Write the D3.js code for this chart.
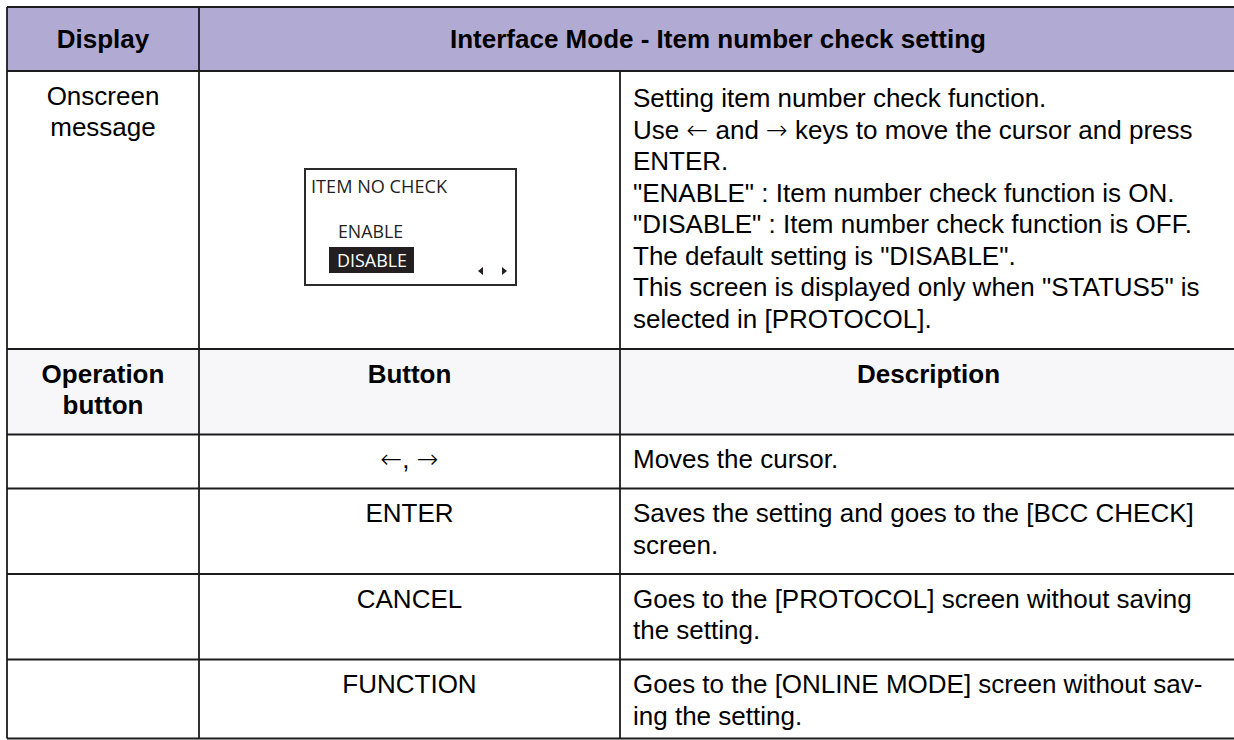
<!DOCTYPE html>
<html>
<head>
<meta charset="utf-8">
<script src="https://cdn.jsdelivr.net/npm/d3@7"></script>
<style>
  html, body { margin: 0; padding: 0; background: #ffffff; }
  svg { display: block; }
</style>
</head>
<body>
<svg id="chart" width="1234" height="740"></svg>
<script>
// ---------------- DATA ----------------
const headerLabels = ["Display", "Interface Mode - Item number check setting"];
const displayLabel = ["Onscreen", "message"];
const screenDescription = [
  "Setting item number check function.",
  "Use \u2190 and \u2192 keys to move the cursor and press",
  "ENTER.",
  "\"ENABLE\" : Item number check function is ON.",
  "\"DISABLE\" : Item number check function is OFF.",
  "The default setting is \"DISABLE\".",
  "This screen is displayed only when \"STATUS5\" is",
  "selected in [PROTOCOL]."
];
const lcdTitle = "ITEM NO CHECK";
const lcdOptions = ["ENABLE", "DISABLE"];
const lcdSelected = "DISABLE";
const subHeaderLabels = [["Operation", "button"], ["Button"], ["Description"]];
const buttonNames = ["\u2190, \u2192", "ENTER", "CANCEL", "FUNCTION"];
const buttonDescriptions = [
  ["Moves the cursor."],
  ["Saves the setting and goes to the [BCC CHECK]", "screen."],
  ["Goes to the [PROTOCOL] screen without saving", "the setting."],
  ["Goes to the [ONLINE MODE] screen without sav-", "ing the setting."]
];

// ---------------- LAYOUT ----------------
const FONT = "'Liberation Sans', Arial, Helvetica, sans-serif";
const ARROW_FONT = "'DejaVu Sans', sans-serif";
const FS = 26, LINE_H = 31.5, PAD_T = 9, PAD_B = 13.5;
const HEADER_H = 64;
const TABLE_TOP = 7;
const VIEW_BOTTOM = 738.5;
const colX = d3.scaleOrdinal().domain([0, 1, 2, 3]).range([7, 199, 620, 1237]);
const svg = d3.select("#chart");

// rows definition built from data
const rows = [];
rows.push({ kind: "header", h: HEADER_H, bg: "#b1abd4" });
rows.push({ kind: "screen", h: Math.max(screenDescription.length, displayLabel.length) * LINE_H + PAD_T + PAD_B + 3.5, bg: "#ffffff" });
rows.push({ kind: "subheader", h: d3.max(subHeaderLabels, d => d.length) * LINE_H + PAD_T + PAD_B, bg: "#f7f7fa" });
buttonNames.forEach((b, i) => rows.push({ kind: "button", idx: i, h: buttonDescriptions[i].length * LINE_H + PAD_T + PAD_B, bg: "#ffffff" }));
let yAcc = TABLE_TOP;
rows.forEach(r => { r.y = yAcc; yAcc += r.h; });
const tableBottom = Math.min(yAcc, VIEW_BOTTOM);

// row backgrounds
svg.append("g").selectAll("rect").data(rows).join("rect")
  .attr("x", colX(0)).attr("y", d => d.y)
  .attr("width", colX(3) - colX(0)).attr("height", d => Math.min(d.h, tableBottom - d.y))
  .attr("fill", d => d.bg);

const textG = svg.append("g").attr("font-family", FONT).attr("fill", "#000");

function addLine(g, str, x, y, anchor, weight) {
  const t = g.append("text")
    .attr("x", x).attr("y", y)
    .attr("font-size", FS).attr("font-weight", weight || "normal")
    .attr("text-anchor", anchor);
  const parts = str.split(/([\u2190\u2192])/).filter(s => s.length);
  t.selectAll("tspan").data(parts).join("tspan")
    .attr("font-family", d => /[\u2190\u2192]/.test(d) ? ARROW_FONT : null)
    .attr("font-weight", d => /[\u2190\u2192]/.test(d) ? "200" : null)
    .text(d => d);
}
function lines(g, arr, x, top, anchor, weight, extra) {
  arr.forEach((s, i) => addLine(g, s, x, top + PAD_T + (extra || 0) + LINE_H * i + LINE_H / 2 + FS * 0.35, anchor, weight));
}

// header row
const hr = rows[0];
addLine(textG, headerLabels[0], (colX(0) + colX(1)) / 2, hr.y + hr.h / 2 + FS * 0.35, "middle", "bold");
addLine(textG, headerLabels[1], (colX(1) + colX(3)) / 2, hr.y + hr.h / 2 + FS * 0.35, "middle", "bold");

// screen row
const sr = rows[1];
lines(textG, displayLabel, (colX(0) + colX(1)) / 2, sr.y, "middle", null, 0);
lines(textG, screenDescription, colX(2) + 13, sr.y, "start", null, 2.5);

// LCD mock screen
const lcdW = 211, lcdH = 116;
const lcdX = (colX(1) + colX(2)) / 2 - lcdW / 2 + 1;
const lcdY = sr.y + 98;
const lcd = svg.append("g").attr("transform", `translate(${lcdX},${lcdY})`)
  .attr("font-family", "'Open Sans', 'Noto Sans', sans-serif");
lcd.append("rect").attr("x", 0).attr("y", 0).attr("width", lcdW).attr("height", lcdH)
  .attr("fill", "#fff").attr("stroke", "#2b2b2b").attr("stroke-width", 2);
lcd.append("text").attr("x", 6).attr("y", 24).attr("font-size", 19).attr("fill", "#231f20")
  .attr("textLength", 136).attr("lengthAdjust", "spacingAndGlyphs").text(lcdTitle);
const optY = d3.scaleOrdinal().domain(lcdOptions).range([69, 98]);
const optW = d3.scaleOrdinal().domain(lcdOptions).range([65, 70]);
lcd.selectAll("rect.sel").data(lcdOptions.filter(o => o === lcdSelected)).join("rect")
  .attr("class", "sel").attr("x", 24).attr("y", d => optY(d) - 20)
  .attr("width", 85).attr("height", 26).attr("fill", "#231f20");
lcd.selectAll("text.opt").data(lcdOptions).join("text")
  .attr("class", "opt")
  .attr("x", d => d === lcdSelected ? 32 : 33)
  .attr("y", d => optY(d))
  .attr("font-size", 19)
  .attr("fill", d => d === lcdSelected ? "#ffffff" : "#231f20")
  .attr("textLength", d => optW(d)).attr("lengthAdjust", "spacingAndGlyphs")
  .text(d => d);
// cursor arrows
lcd.append("path").attr("d", "M173,102 L178,98 L178,106 Z").attr("fill", "#231f20");
lcd.append("path").attr("d", "M202,102 L197,98 L197,106 Z").attr("fill", "#231f20");

// sub header row
const shr = rows[2];
lines(textG, subHeaderLabels[0], (colX(0) + colX(1)) / 2, shr.y, "middle", "bold");
lines(textG, subHeaderLabels[1], (colX(1) + colX(2)) / 2, shr.y, "middle", "bold");
lines(textG, subHeaderLabels[2], (colX(2) + colX(3)) / 2, shr.y, "middle", "bold");

// button rows
rows.filter(r => r.kind === "button").forEach(r => {
  lines(textG, [buttonNames[r.idx]], (colX(1) + colX(2)) / 2, r.y, "middle");
  lines(textG, buttonDescriptions[r.idx], colX(2) + 13, r.y, "start");
});

// grid lines
const grid = svg.append("g").attr("stroke", "#1c1c1c").attr("stroke-width", 1.8).attr("fill", "none");
const hLines = rows.map(r => r.y).concat([tableBottom]);
grid.selectAll("line.h").data(hLines).join("line").attr("class", "h")
  .attr("x1", colX(0)).attr("x2", colX(3)).attr("y1", d => d).attr("y2", d => d);
grid.append("line").attr("x1", colX(0)).attr("x2", colX(0)).attr("y1", TABLE_TOP).attr("y2", tableBottom);
grid.append("line").attr("x1", colX(3)).attr("x2", colX(3)).attr("y1", TABLE_TOP).attr("y2", tableBottom);
grid.append("line").attr("x1", colX(1)).attr("x2", colX(1)).attr("y1", TABLE_TOP).attr("y2", tableBottom);
grid.append("line").attr("x1", colX(2)).attr("x2", colX(2)).attr("y1", rows[1].y).attr("y2", tableBottom);
</script>
</body>
</html>
